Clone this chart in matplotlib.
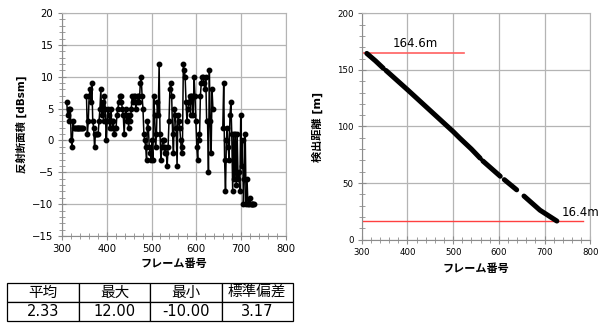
import numpy as np
import matplotlib
matplotlib.use('Agg')
import matplotlib.pyplot as plt
from matplotlib.ticker import MultipleLocator

plt.rcParams['font.family'] = ['DejaVu Sans', 'Noto Sans CJK JP']

# 反射断面積 (RCS) per frame, NaN = 欠測
nan = np.nan
rcs_frames = (list(range(311, 348, 2)) + [nan] + list(range(355, 638, 2)) + [nan]
              + list(range(659, 730, 2)))
rcs_values = ([6, 4, 5, 3, 5, 0, -1, 3, 2, 2, 2, 2, 2, 2, 2, 2, 2, 2, 2]
              + [nan]
              + [7, 1, 3, 7, 8, 6, 9, 3, 2, -1,
                 1, 1, 1, 1, 3,
                 5, 8, 4, 6, 3, 7, 5, 0,
                 3, 5, 4, 2, 5, 3, 2, 3, 1, 2, 2, 4, 5, 6, 7,
                 7, 6, 5, 4, 1, 4, 5, 3, 4, 2,
                 4, 3, 5, 7, 6, 7, 7, 5, 6, 7, 7, 6, 9, 10, 7,
                 5, 1, 0, -1, -3, 3, 2, -1, -2, -3, 0, -3, 7, 4, -1,
                 1, 6, 4, 12, 1, -3, -1, 0, 0, -2, -1, -2, -4, -1, 3,
                 8, 9, 7, 1, -2, 5, 4, 2, -4, 4, 3, 2, 0, -2, -1,
                 12, 11, 10, 6, 3, 5, 6, 7, 4, 7, 7, 4, 10, 7, 3,
                 -1, -3, 1, 0, 7, 9, 10, 10, 9, 8, 10, 3, 3, -5, 11, 3, -2, 8, 5]
              + [nan]
              + [2, 9, -3, -8, 0, 2, -1, -3, 4, 6, 1,
                 -8, 1, -6, 1, -7, 1, -6, -5, -8, 4, -4, 0,
                 -10, -6, 1, -10, -6, -10, -10, -9, -10, -10, -10, -10, -10])

# 検出距離
dist_frames = [311, 330, 347, nan, 353, 400, 450, 500, 515, 540, 559, nan, 565, 603, nan,
               612, 639, nan, 655, 690, 727]
dist_values = [164.6, 158, 151.5, nan, 149.5, 132.5, 114, 95.5, 89.5, 80, 72, nan, 69.5, 56, nan,
               53, 44, nan, 38.5, 26, 16.4]
max_dist, min_dist = 164.6, 16.4

stat_labels = ['平均', '最大', '最小', '標準偏差']
stat_values = ['2.33', '12.00', '-10.00', '3.17']

grid_c = '#b4b4b4'
spine_c = '#8c8c8c'


def style_axes(ax, lab_size):
    ax.grid(True, which='major', color=grid_c, lw=0.9)
    ax.set_axisbelow(True)
    for s in ax.spines.values():
        s.set_color(grid_c)
    ax.spines['left'].set_color(spine_c)
    ax.spines['bottom'].set_color(spine_c)
    ax.tick_params(which='major', direction='inout', length=6, color=spine_c,
                   labelsize=lab_size, pad=3)
    ax.tick_params(which='minor', direction='inout', length=4, color=spine_c)
    ax.tick_params(top=False, right=False, which='both')


fig = plt.figure(figsize=(6.06, 3.26), dpi=100)

# 左: 反射断面積
ax1 = fig.add_axes([0.102, 0.276, 0.370, 0.684])
ax1.plot(rcs_frames, rcs_values, color='black', lw=1.1, marker='o', ms=3.2)
ax1.set_xlim(300, 800)
ax1.set_ylim(-15, 20)
ax1.xaxis.set_major_locator(MultipleLocator(100))
ax1.xaxis.set_minor_locator(MultipleLocator(20))
ax1.yaxis.set_major_locator(MultipleLocator(5))
ax1.yaxis.set_minor_locator(MultipleLocator(1))
style_axes(ax1, 7.3)
ax1.set_xlabel('フレーム番号', fontsize=8, fontweight='bold', labelpad=3)
ax1.set_ylabel('反射断面積 [dBsm]', fontsize=7.5, fontweight='bold', labelpad=4)

# 右: 検出距離
ax2 = fig.add_axes([0.597, 0.265, 0.377, 0.694])
ax2.axhline(min_dist, xmin=0, xmax=(784 - 300) / 500, color='#ff4040', lw=1)
ax2.plot([300, 524], [max_dist, max_dist], color='#ff6060', lw=1.2)
ax2.plot(dist_frames, dist_values, color='black', lw=3.6, solid_capstyle='round')
ax2.text(417, 173.5, '164.6m', fontsize=8.5, ha='center', va='center')
ax2.text(738, 24, '16.4m', fontsize=8.5, ha='left', va='center', clip_on=False)
ax2.set_xlim(300, 800)
ax2.set_ylim(0, 200)
ax2.xaxis.set_major_locator(MultipleLocator(100))
ax2.xaxis.set_minor_locator(MultipleLocator(20))
ax2.yaxis.set_major_locator(MultipleLocator(50))
ax2.yaxis.set_minor_locator(MultipleLocator(10))
style_axes(ax2, 6.2)
ax2.set_xlabel('フレーム番号', fontsize=8, fontweight='bold', labelpad=5)
ax2.set_ylabel('検出距離 [m]', fontsize=8, fontweight='bold', labelpad=10)

# 統計表
axt = fig.add_axes([7.3 / 606, 5 / 326, (293 - 7.3) / 606, 38 / 326])
axt.axis('off')
tbl = axt.table(cellText=[stat_labels, stat_values], bbox=[0, 0, 1, 1], cellLoc='center')
tbl.auto_set_font_size(False)
for (r, c), cell in tbl.get_celld().items():
    cell.set_linewidth(0.9)
    cell.get_text().set_fontsize(10.5)
    if r == 1:
        cell._loc = 'right'
        cell.PAD = 0.08

fig.savefig('out.png', dpi=100)
